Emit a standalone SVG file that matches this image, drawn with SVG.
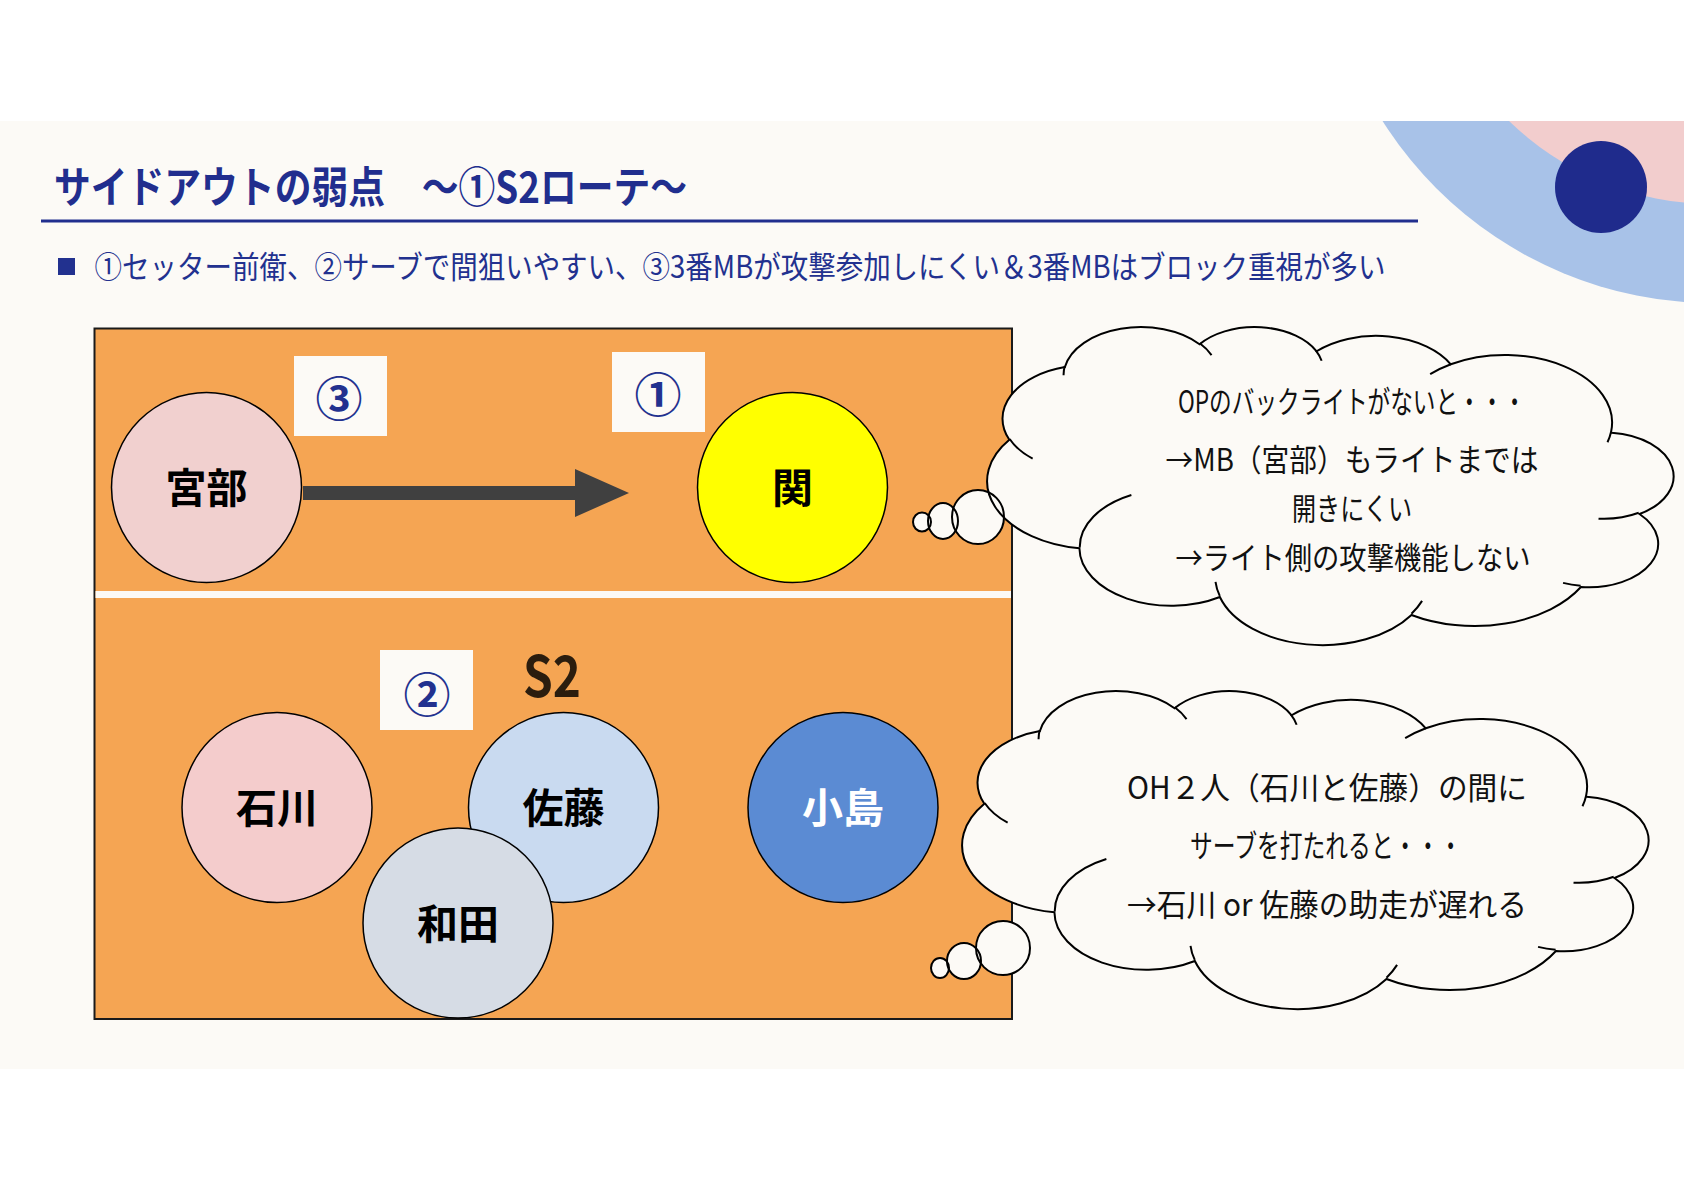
<svg xmlns="http://www.w3.org/2000/svg" xmlns:xlink="http://www.w3.org/1999/xlink" width="1684" height="1191" viewBox="0 0 1684 1191">
<style>
.t{font-family:"Noto Sans CJK JP","Noto Sans",sans-serif}
.name{font-size:41px;font-weight:700;text-anchor:middle;fill:#000}
.num{font-size:47px;font-weight:700;fill:#22318F;text-anchor:middle}
.ct{font-size:31px;fill:#111;text-anchor:middle}
.player{stroke:#000;stroke-width:1.5}
.box{fill:#FCFAF6}
.cf{fill:#FCFAF6;stroke:none}
.cs{fill:none;stroke:#000;stroke-width:2}
</style>
<defs>
<clipPath id="creamClip"><rect x="0" y="121" width="1684" height="948"/></clipPath>
<path id="cloudOutline" vector-effect="non-scaling-stroke" d="M3900,14370 A6753,9190 0 0,1 14004,5201 A5333,7267 0 0,1 22456,3433 A4365,5945 0 0,1 29833,2482 A4857,6595 0 0,1 38318,5578 A5333,7273 0 0,1 41818,15462 A6775,9220 0 0,1 37403,30204 A5785,7867 0 0,1 28554,36814 A6752,9215 0 0,1 16478,39263 A7720,10543 0 0,1 5802,35466 A4360,5918 0 0,1 2111,25544 A4345,5945 0 0,1 3860,14501 Z"/>
<path id="cloudWrinkles" vector-effect="non-scaling-stroke" d="M4693,26177 A4345,5945 0 0,1 2160,25380 M6928,34899 A4360,5918 0 0,1 5820,35281 M16478,39090 A6752,9215 0 0,1 15811,37351 M28827,34751 A6752,9215 0 0,1 28560,36660 M34129,22954 A5785,7867 0 0,1 37381,30090 M41798,15354 A5333,7273 0 0,1 40350,18030 M38324,5426 A4857,6595 0 0,1 38400,6690 M29078,3952 A4857,6595 0 0,1 29821,2339 M22141,4720 A4365,5945 0 0,1 22500,3330 M14000,5192 A6753,9190 0 0,1 15302,6543 M4127,15789 A6753,9190 0 0,1 3900,14370"/>
</defs>

<rect x="0" y="0" width="1684" height="1191" fill="#FFFFFF"/>
<rect x="0" y="121" width="1684" height="948" fill="#FCFAF6"/>

<g id="decoration" clip-path="url(#creamClip)">
  <circle cx="1713" cy="-88" r="391" fill="#A8C2E8"/>
  <circle cx="1713" cy="-88" r="292" fill="#F2CDCD"/>
  <circle cx="1601" cy="187" r="46" fill="#1F2B8C"/>
</g>

<g id="title">
  <text class="t" x="54" y="203" font-size="43" font-weight="700" fill="#212E8E" textLength="633" lengthAdjust="spacingAndGlyphs">サイドアウトの弱点　～①S2ローテ～</text>
  <rect x="41" y="219.5" width="1377" height="3" fill="#212E8E"/>
</g>

<g id="bullet">
  <rect x="58" y="258" width="17" height="17" fill="#22318F"/>
  <text class="t" x="94.5" y="278" font-size="31" fill="#22318F" textLength="1291" lengthAdjust="spacingAndGlyphs">①セッター前衛、②サーブで間狙いやすい、③3番MBが攻撃参加しにくい＆3番MBはブロック重視が多い</text>
</g>

<g id="court">
  <rect x="94.5" y="328.5" width="917.5" height="690.5" fill="#F5A553" stroke="#1a1a1a" stroke-width="2"/>
  <rect x="95.5" y="591" width="915.5" height="7" fill="#FCFAF6"/>
</g>

<g id="label-3"><rect class="box" x="294" y="356" width="93" height="80"/><text class="t num" x="339" y="416">③</text></g>
<g id="label-1"><rect class="box" x="612" y="352" width="93" height="80"/><text class="t num" x="658" y="412">①</text></g>
<g id="label-2"><rect class="box" x="380" y="650" width="93" height="80"/><text class="t num" x="427" y="712">②</text></g>

<g id="label-s2"><text class="t" x="523" y="697" font-size="57" font-weight="700" fill="#2B1D0E" textLength="58" lengthAdjust="spacingAndGlyphs">S2</text></g>

<g id="connectors">
  <path d="M303,486 H575 V469 L629,493 L575,517 V500 H303 Z" fill="#404040"/>
</g>

<g id="node-miyabe"><circle class="player" cx="206.5" cy="487.5" r="95" fill="#F1D0CF"/><text class="t name" x="206.5" y="503">宮部</text></g>
<g id="node-seki"><circle class="player" cx="792.5" cy="487.5" r="95" fill="#FFFF00"/><text class="t name" x="792.5" y="503">関</text></g>
<g id="node-ishikawa"><circle class="player" cx="277" cy="807.5" r="95" fill="#F4CCCC"/><text class="t name" x="277" y="823">石川</text></g>
<g id="node-sato"><circle class="player" cx="563.5" cy="807.5" r="95" fill="#C9DAF0"/><text class="t name" x="563.5" y="823">佐藤</text></g>
<g id="node-wada"><circle class="player" cx="458" cy="923" r="95" fill="#D6DCE5"/><text class="t name" x="458" y="939">和田</text></g>
<g id="node-kojima"><circle class="player" cx="843" cy="807.5" r="95" fill="#5B8BD3"/><text class="t name" x="843" y="823" style="fill:#FFFFFF">小島</text></g>

<g id="cloud-top">
  <use xlink:href="#cloudOutline" href="#cloudOutline" class="cf" transform="translate(1673,326) scale(-0.01587,0.00736)"/>
  <ellipse class="cf" cx="978" cy="517" rx="26" ry="27"/>
  <ellipse class="cf" cx="943" cy="521" rx="15" ry="18"/>
  <ellipse class="cf" cx="922" cy="522" rx="9" ry="9.5"/>
  <use xlink:href="#cloudOutline" href="#cloudOutline" class="cs" transform="translate(1673,326) scale(-0.01587,0.00736)"/>
  <use xlink:href="#cloudWrinkles" href="#cloudWrinkles" class="cs" transform="translate(1673,326) scale(-0.01587,0.00736)"/>
  <ellipse class="cs" cx="978" cy="517" rx="26" ry="27"/>
  <ellipse class="cs" cx="943" cy="521" rx="15" ry="18"/>
  <ellipse class="cs" cx="922" cy="522" rx="9" ry="9.5"/>
  <text class="t ct" x="1352" y="413" textLength="348" lengthAdjust="spacingAndGlyphs">OPのバックライトがないと・・・</text>
  <text class="t ct" x="1352" y="471" textLength="373" lengthAdjust="spacingAndGlyphs">→MB（宮部）もライトまでは</text>
  <text class="t ct" x="1352" y="520" textLength="120" lengthAdjust="spacingAndGlyphs">開きにくい</text>
  <text class="t ct" x="1353" y="569" textLength="355" lengthAdjust="spacingAndGlyphs">→ライト側の攻撃機能しない</text>
</g>

<g id="cloud-bottom">
  <use xlink:href="#cloudOutline" href="#cloudOutline" class="cf" transform="translate(1648,690) scale(-0.01587,0.00736)"/>
  <ellipse class="cf" cx="1003" cy="948" rx="27" ry="27"/>
  <ellipse class="cf" cx="964" cy="961" rx="17" ry="18"/>
  <ellipse class="cf" cx="940" cy="968" rx="9" ry="10"/>
  <use xlink:href="#cloudOutline" href="#cloudOutline" class="cs" transform="translate(1648,690) scale(-0.01587,0.00736)"/>
  <use xlink:href="#cloudWrinkles" href="#cloudWrinkles" class="cs" transform="translate(1648,690) scale(-0.01587,0.00736)"/>
  <ellipse class="cs" cx="1003" cy="948" rx="27" ry="27"/>
  <ellipse class="cs" cx="964" cy="961" rx="17" ry="18"/>
  <ellipse class="cs" cx="940" cy="968" rx="9" ry="10"/>
  <text class="t ct" x="1327" y="799" textLength="400" lengthAdjust="spacingAndGlyphs">OH２人（石川と佐藤）の間に</text>
  <text class="t ct" x="1326" y="857" textLength="272" lengthAdjust="spacingAndGlyphs">サーブを打たれると・・・</text>
  <text class="t ct" x="1327" y="916" textLength="400" lengthAdjust="spacingAndGlyphs">→石川 or 佐藤の助走が遅れる</text>
</g>
</svg>
